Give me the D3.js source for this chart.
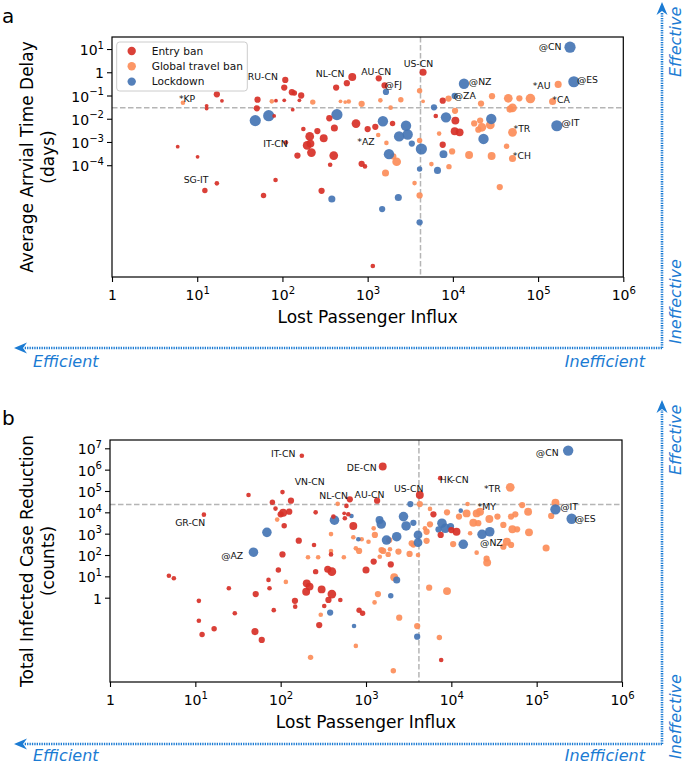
<!DOCTYPE html>
<html><head><meta charset="utf-8">
<script src="https://cdn.jsdelivr.net/npm/d3@7"></script>
<style>body{margin:0;background:#fff}svg{display:block}</style>
</head><body><svg id="chart" width="685" height="766"></svg>
<script>
// ---------- data ----------
const categories = ["Entry ban", "Global travel ban", "Lockdown"];
const xTicks = [1, 10, 100, 1e3, 1e4, 1e5, 1e6];
const yTicksDelay = [1e-4, 1e-3, 1e-2, 1e-1, 1, 10];
const yTicksCases = [1, 10, 100, 1e3, 1e4, 1e5, 1e6, 1e7];
const xTitle = "Lost Passenger Influx";
const delayTitle = ["Average Arrvial Time Delay", "(days)"];
const casesTitle = ["Total Infected Case Reduction", "(counts)"];

// panel a: [lost passenger influx, average arrival time delay (days), weight]
const delayEntryBan = [
 [12.9,0.036,2],[12.9,0.0275,2],[17,0.112,5],[19.5,0.059,2],[5.9,6.3e-4,2],[10.1,2.3e-4,2],
 [108,0.47,5],[105,0.22,5],[129,0.138,5],[138,0.129,4],[166,0.1,5],[51,0.066,5],[84,0.06,2],[105,0.062,2],[158,0.062,2],
 [50,0.028,5],[132,0.0245,2],[80,0.0132,2],[355,0.0105,5],[407,0.004,6],[176,0.0036,3],[257,0.00295,5],[209,0.00174,8],[305,0.00145,7],
 [195,7.1e-4,8],[213,8.5e-4,7],[110,9.5e-4,3],[150,2.6e-4,5],[219,3.5e-4,8],[400,2.6e-4,8],[363,1.05e-4,3],[288,7.9e-6,5],[83,2.3e-5,3],[60,5e-6,4],[17,1.66e-5,3],[12.3,8.1e-6,4],
 [427,0.22,5],[570,0.34,5],[660,0.63,7],[1350,0.55,5],[1580,0.27,5],[4470,1.0,6],[730,0.0062,8],[1000,0.0036,5],[1230,0.0045,5],[1960,0.0062,4],
 [850,1.15e-4,5],[930,8.9e-5,3],[1150,4.6e-9,3],[6300,0.0132,3],[10700,0.0083,7],[10500,0.0029,7],[12000,0.0026,7],[7600,0.06,5],[7600,7.6e-4,5]
];
const delayGlobalBan = [
 [6.8,0.049,3],[75,0.056,3],[227,0.052,4],[480,0.056,2],[600,0.055,3],[545,0.052,2],[850,0.044,5],[1410,0.062,3],[2450,0.066,4],[1860,0.030,3],[4070,0.16,4],[4470,0.056,2],
 [1330,0.002,3],[1660,9.1e-4,3],[4070,0.00115,4],[10600,0.022,5],[8900,0.074,5],[28800,0.093,5],[21400,0.045,5],[44700,0.076,8],[60300,0.076,5],[81300,0.074,9],[50100,0.0295,8],[46800,0.026,6],
 [20900,0.0083,5],[21900,0.0043,8],[27500,0.0054,8],[17800,0.0063,5],[19900,0.0034,5],[42700,6.5e-4,4],[50100,0.0026,8],[6900,0.0023,3],[9800,3.9e-4,5],[15500,2.75e-4,7],[28500,2.5e-4,7],[50100,1.95e-4,6],
 [172000,0.30,6],[148000,0.055,6],[2190,1.41e-4,8],[2000,2.4e-4,5],[1620,4.6e-5,6],[5600,1.12e-4,3],[9000,8.7e-5,4],[3550,1.7e-5,3],[4070,5e-6,5],[35500,1.15e-5,5]
];
const delayLockdown = [
 [48,0.0083,11],[69,0.0135,11],[436,0.015,11],[380,3.5e-6,6],[1640,0.143,5],[1510,0.0078,10],[2820,0.005,10],[2950,0.0021,10],[2340,0.00174,10],[3300,8.5e-4,5],[4270,5e-4,11],[1780,3e-4,10],
 [6000,0.031,5],[8300,0.0115,10],[10500,0.096,5],[13500,0.32,10],[28200,0.0098,10],[22900,0.00135,10],[7760,3e-4,7],[237000,12,11],[263000,0.39,11],[166000,0.005,11],
 [4070,6.9e-5,4],[6600,6e-5,6],[2290,4.1e-6,6],[1480,1.3e-6,5],[4070,3.5e-7,5]
];
const delayLabels = [
 ["*KP",7.6,0.074],["RU-CN",59,0.67],["NL-CN",363,0.85],["AU-CN",1260,1.1],["@FJ",2000,0.295],["US-CN",3940,2.3],
 ["@NZ",20900,0.41],["@ZA",13800,0.1],["*AU",110000,0.275],["@ES",380000,0.46],["*CA",186000,0.066],["@CN",138000,12.3],
 ["@IT",240000,0.0066],["*TR",64600,0.0036],["*AZ",955,0.001],["*CH",64600,2.57e-4],["IT-CN",83,8.5e-4],["SG-IT",9.7,2.4e-5]
];
const delayCutoff = [4170, 0.03];

// panel b: [lost passenger influx, total infected case reduction, weight]
const casesEntryBan = [
 [177,4.5e6,3],[1570,1.4e6,7],[42,6.5e4,3],[105,8.9e4,3],[132,3.5e4,5],[80,2.95e4,4],[87,1.5e4,3],[107,9500,7],[126,10700,5],[100,8100,5],[257,10000,3],[12.6,7800,3],
 [646,40700,5],[590,20000,3],[620,8100,3],[1350,35000,5],[4270,65000,7],[7400,4e5,3],[6170,8100,5],[565,5250,3],[555,9000,2],[710,2290,7],[11500,1230,7],[10000,1480,5],
 [110,2340,4],[163,470,5],[246,295,3],[389,107,3],[105,107,5],[94,20,4],[4.9,10.7,3],[5.6,8.1,3],[24.7,2.75,3],[72,6.8,3],[74,2.75,3],[202,4.7,7],[218,3.3,7],[199,1.9,7],[257,16.6,4],[302,2.45,7],[398,16.6,8],[356,21.4,6],[398,1.48,8],[363,0.78,5],[500,0.78,3],[51,1.48,5],[147,0.71,5],[148,0.38,3],[29,0.186,3],[11,0.71,3],[83,0.26,3],[324,0.41,3],[11,0.083,3],[16.6,0.035,4],[12,0.019,4],[50,0.0257,6],[60,0.0105,5],[283,0.052,5],
 [1230,49,5],[1950,36,5],[1000,20,6],[830,0.26,4],[912,0.186,4],[7500,870,5],[7600,0.0012,3],[415,6300,3]
];
const casesGlobalBan = [
 [466,25000,3],[4270,24500,5],[49000,148000,8],[67600,21900,5],[166000,28200,7],[148000,6760,5],[129000,214,6],[81300,1150,7],[79400,10700,7],[50100,6300,5],[56200,8100,5],[34700,6300,5],[40700,2570,5],[51900,1600,7],[59000,1600,5],[27900,4900,7],[21700,10700,7],[19800,8900,7],[18100,3240,7],[20700,3100,5],[16600,1050,3],[44700,420,7],[50100,295,5],[40700,245,5],[19800,129,3],[25900,67,5],[26300,44,7],
 [5620,14500,3],[8900,10000,5],[15100,8900,7],[12300,6300,5],[15500,24500,3],[5620,2750,5],[5130,1230,5],[4900,1780,3],[1270,870,5],[1230,1780,3],[1870,500,5],[3430,355,5],[1520,170,5],[1910,186,3],[2400,145,5],[890,550,3],[1070,420,3],[710,676,3],[5130,460,5],[3240,112,5],[4070,100,3],[3590,295,4],[830,155,5],[1590,155,5],[1450,83,3],[1820,107,4],[550,78,3],[760,205,3],
 [2140,9.1,7],[5500,2.95,5],[8900,2.04,7],[1380,1.48,5],[1260,0.6,3],[2450,0.115,5],[3980,0.047,5],[7240,0.0135,4],[760,0.0055,3],[91,4570,3],[389,955,3],[389,155,3],[275,78,3],[115,5.5,3],[295,0.158,3],[209,78,3],[224,0.0016,4],[2090,3.8e-4,4],[10500,324,5]
];
const casesLockdown = [
 [234000,7.8e6,10],[166000,13800,10],[257000,5000,10],[3310,24500,5],[427,4270,9],[69,1150,9],[48,135,9],[12900,12000,3],[676,6760,3],[1510,2820,9],[1440,4370,7],[2750,6300,9],[2950,2290,9],[2290,724,9],[1740,500,9],[4070,870,8],[4070,380,8],[3590,3240,5],[7760,3090,9],[8500,1780,9],[9800,2140,6],[7080,1580,5],[22900,930,9],[28200,1230,9],[13800,316,9],[813,550,3],[2290,6.8,6],[1950,1.23,4],[380,0.2,5],[724,0.047,3],[3980,0.0148,5]
];
const casesLabels = [
 ["IT-CN",107,5.6e6],["DE-CN",890,1.23e6],["VN-CN",219,2.6e5],["NL-CN",417,6.0e4],["AU-CN",1100,6.5e4],["US-CN",3160,1.35e5],
 ["HK-CN",10800,3.5e5],["*TR",30200,1.35e5],["*MY",26000,18200],["@CN",133000,6.2e6],["@IT",240000,18200],["@ES",371000,5000],
 ["@NZ",29500,380],["GR-CN",8.7,3400],["@AZ",27,93]
];
const casesCutoff = [4170, 23400];

// ---------- style ----------
const colors = ["#d73027", "#fc8d59", "#4575b4"];
const arrowBlue = "#1b7bd3";
const FONT = "'DejaVu Sans', sans-serif";

const svg = d3.select("#chart");
const rScale = d3.scaleLinear().domain([2, 11]).range([1.9, 5.6]);

function tickLabel(sel, v, fs) {
  const e = Math.round(Math.log10(v));
  if (e === 0) { sel.text("1"); return; }
  sel.append("tspan").text("10");
  sel.append("tspan").attr("dy", -fs * 0.45).attr("font-size", fs * 0.72)
     .text((e < 0 ? "\u2212" : "") + Math.abs(e));
}

function drawPanel(cfg) {
  const g = svg.append("g");
  const x = d3.scaleLog().domain([1, 1e6]).range([cfg.left, cfg.right]);
  const y = d3.scaleLog().domain(cfg.yDomain).range([cfg.bottom, cfg.top]);

  // reference lines
  g.append("line").attr("x1", x(cfg.cutoff[0])).attr("x2", x(cfg.cutoff[0]))
    .attr("y1", cfg.top).attr("y2", cfg.bottom)
    .attr("stroke", "#b5b5b5").attr("stroke-width", 1.5).attr("stroke-dasharray", "5.5,2.5");
  g.append("line").attr("x1", cfg.left).attr("x2", cfg.right)
    .attr("y1", y(cfg.cutoff[1])).attr("y2", y(cfg.cutoff[1]))
    .attr("stroke", "#b5b5b5").attr("stroke-width", 1.5).attr("stroke-dasharray", "5.5,2.5");

  // points: global ban, lockdown, entry ban order
  const order = [1, 2, 0];
  order.forEach(i => {
    g.append("g").selectAll("circle").data(cfg.series[i]).join("circle")
      .attr("cx", d => x(d[0])).attr("cy", d => y(d[1])).attr("r", d => rScale(d[2]))
      .attr("fill", colors[i]).attr("fill-opacity", 0.92);
  });

  // point labels
  g.append("g").selectAll("text").data(cfg.labels).join("text")
    .attr("x", d => x(d[1])).attr("y", d => y(d[2]) + 3.3)
    .attr("text-anchor", "middle").attr("font-family", FONT).attr("font-size", 9.3)
    .attr("fill", "#111").text(d => d[0]);

  // frame
  g.append("rect").attr("x", cfg.left).attr("y", cfg.top)
    .attr("width", cfg.right - cfg.left).attr("height", cfg.bottom - cfg.top)
    .attr("fill", "none").attr("stroke", "#000").attr("stroke-width", 1.2);

  // axes
  const xa = g.append("g").attr("transform", `translate(0,${cfg.bottom})`)
    .call(d3.axisBottom(x).tickValues(xTicks).tickSize(5).tickFormat(""));
  xa.select(".domain").remove();
  xa.selectAll(".tick line").attr("stroke", "#000").attr("stroke-width", 1.1);
  xa.selectAll(".tick").append("text")
    .attr("y", 23).attr("fill", "#000").attr("text-anchor", "middle")
    .attr("font-family", FONT).attr("font-size", 14)
    .each(function(d) { tickLabel(d3.select(this), d, 14); });

  const ya = g.append("g").attr("transform", `translate(${cfg.left},0)`)
    .call(d3.axisLeft(y).tickValues(cfg.yTicks).tickSize(5).tickFormat(""));
  ya.select(".domain").remove();
  ya.selectAll(".tick line").attr("stroke", "#000").attr("stroke-width", 1.1);
  ya.selectAll(".tick").append("text")
    .attr("x", -8).attr("y", 5.5).attr("fill", "#000").attr("text-anchor", "end")
    .attr("font-family", FONT).attr("font-size", 14)
    .each(function(d) { tickLabel(d3.select(this), d, 14); });

  // axis titles
  g.append("text").attr("x", (cfg.left + cfg.right) / 2).attr("y", cfg.bottom + 46)
    .attr("text-anchor", "middle").attr("font-family", FONT).attr("font-size", 17).text(xTitle);
  const cy = (cfg.top + cfg.bottom) / 2;
  cfg.yTitle.forEach((t, i) => {
    g.append("text").attr("transform", `translate(${33 + i * 21},${cy}) rotate(-90)`)
      .attr("text-anchor", "middle").attr("font-family", FONT).attr("font-size", 17).text(t);
  });

  // panel letter
  svg.append("text").attr("x", 2).attr("y", cfg.letterY).attr("font-family", FONT)
    .attr("font-size", 20).text(cfg.letter);

  // arrows
  const ax = 662;
  const ar = svg.append("g").attr("fill", arrowBlue);
  ar.append("line").attr("x1", ax).attr("x2", 24).attr("y1", cfg.arrowY).attr("y2", cfg.arrowY)
    .attr("stroke", arrowBlue).attr("stroke-width", 2.6).attr("stroke-dasharray", "1.3,1.1");
  ar.append("line").attr("x1", ax).attr("x2", ax).attr("y1", cfg.arrowY).attr("y2", cfg.arrowTop + 10)
    .attr("stroke", arrowBlue).attr("stroke-width", 2.6).attr("stroke-dasharray", "1.3,1.1");
  ar.append("path").attr("d", `M14,${cfg.arrowY} L27,${cfg.arrowY - 5.5} L23,${cfg.arrowY} L27,${cfg.arrowY + 5.5} Z`);
  ar.append("path").attr("d", `M${ax},${cfg.arrowTop} L${ax - 5.5},${cfg.arrowTop + 13} L${ax},${cfg.arrowTop + 9} L${ax + 5.5},${cfg.arrowTop + 13} Z`);
  const it = (sel) => sel.attr("font-family", FONT).attr("font-style", "italic").attr("font-size", 16).attr("fill", arrowBlue);
  ar.append("text").attr("x", 33).attr("y", cfg.hTextY).text("Efficient").call(it);
  ar.append("text").attr("x", 645).attr("y", cfg.hTextY).attr("text-anchor", "end").text("Inefficient").call(it);
  ar.append("text").attr("transform", `translate(681,${cfg.arrowTop + 75}) rotate(-90)`).text("Effective").call(it);
  ar.append("text").attr("transform", `translate(681,${cfg.vTextY}) rotate(-90)`).text("Ineffective").call(it);
}

drawPanel({
  left: 112, right: 623.3, top: 37, bottom: 277,
  yDomain: [1.55e-9, 32.9], yTicks: yTicksDelay, cutoff: delayCutoff,
  series: [delayEntryBan, delayGlobalBan, delayLockdown], labels: delayLabels,
  yTitle: delayTitle, letter: "a", letterY: 23, arrowY: 348, arrowTop: 2,
  hTextY: 367, vTextY: 344
});
drawPanel({
  left: 110, right: 622, top: 440, bottom: 682,
  yDomain: [1.12e-4, 2.45e7], yTicks: yTicksCases, cutoff: casesCutoff,
  series: [casesEntryBan, casesGlobalBan, casesLockdown], labels: casesLabels,
  yTitle: casesTitle, letter: "b", letterY: 425, arrowY: 744, arrowTop: 400,
  hTextY: 761, vTextY: 759
});

// legend (panel a)
const lg = svg.append("g").attr("transform", "translate(116.7,42)");
lg.append("rect").attr("width", 130.6).attr("height", 49).attr("rx", 3)
  .attr("fill", "#fff").attr("fill-opacity", 0.85).attr("stroke", "#cccccc").attr("stroke-width", 1);
categories.forEach((c, i) => {
  lg.append("circle").attr("cx", 15).attr("cy", 9 + i * 15.3).attr("r", 4.2).attr("fill", colors[i]).attr("fill-opacity", 0.92);
  lg.append("text").attr("x", 35).attr("y", 9 + i * 15.3 + 3.8).attr("font-family", FONT)
    .attr("font-size", 10.6).attr("fill", "#111").text(c);
});
</script>
</body></html>
